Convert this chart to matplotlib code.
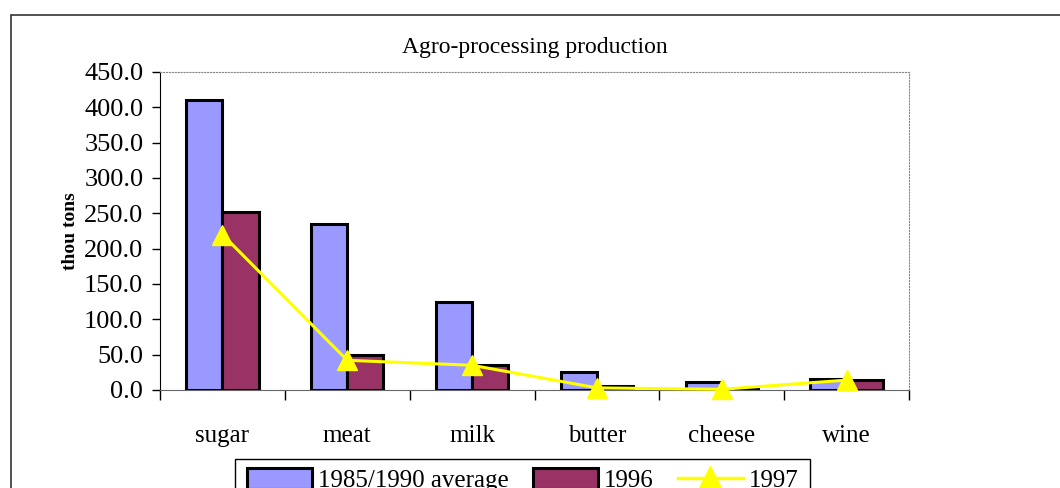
"""Agro-processing production: bars for two periods plus a 1997 line"""

import matplotlib
matplotlib.use("Agg")
import matplotlib.pyplot as plt
from matplotlib.patches import Patch, Rectangle
from matplotlib.lines import Line2D
from matplotlib.ticker import FormatStrFormatter

categories = ["sugar", "meat", "milk", "butter", "cheese", "wine"]
avg_1985_1990 = [410.0, 235.0, 125.0, 26.0, 12.0, 15.0]
year_1996 = [252.0, 49.0, 36.0, 5.0, 2.0, 14.0]
year_1997 = [220.0, 42.0, 35.0, 3.0, 1.0, 14.0]

BLUE = "#9999FF"
MAROON = "#993366"
YELLOW = "#FFFF00"

plt.rcParams["font.family"] = ["Liberation Serif", "DejaVu Serif"]

W, H = 1060, 488
fig = plt.figure(figsize=(W / 100, H / 100), dpi=100)

# outer chart border, runs off the right and bottom edges
fig.patches.append(Rectangle((11 / W, -0.2), 1.2, 1.2 - 15 / H,
                             transform=fig.transFigure, fill=False,
                             edgecolor="#333333", linewidth=1.2))

ax = fig.add_axes([160 / W, 1 - 390 / H, 749 / W, 318 / H])

x = list(range(len(categories)))
w = 0.29
ax.bar([i - w / 2 for i in x], avg_1985_1990, width=w, color=BLUE,
       edgecolor="black", linewidth=2.2, zorder=2)
ax.bar([i + w / 2 for i in x], year_1996, width=w, color=MAROON,
       edgecolor="black", linewidth=2.2, zorder=2)
ax.plot(x, year_1997, color=YELLOW, linewidth=2.2, marker="^",
        markersize=15, zorder=3, clip_on=False)

ax.set_xlim(-0.5, len(categories) - 0.5)
ax.set_ylim(0, 450)
ax.set_yticks(range(0, 451, 50))
ax.yaxis.set_major_formatter(FormatStrFormatter("%.1f"))
ax.tick_params(axis="y", direction="out", length=6, width=1, labelsize=19, pad=6)

ax.set_xticks(x)
ax.set_xticklabels(categories)
ax.set_xticks([i - 0.5 for i in range(len(categories) + 1)], minor=True)
ax.tick_params(axis="x", which="major", length=0, labelsize=18, pad=25)
ax.tick_params(axis="x", which="minor", direction="out", length=7, width=1)

ax.spines["top"].set_linestyle(":")
ax.spines["top"].set_color("#888888")
ax.spines["right"].set_linestyle(":")
ax.spines["right"].set_color("#888888")
ax.spines["bottom"].set_color("#666666")
ax.spines["left"].set_color("black")

ax.set_ylabel("thou tons", fontsize=14, fontweight="bold", labelpad=4)
fig.text(535 / W, 1 - 48 / H, "Agro-processing production",
         ha="center", va="center", fontsize=17)

# legend box drawn separately so it keeps the wide right margin
fig.patches.append(Rectangle((235 / W, -0.2), (810 - 235) / W, 0.2 + 1 - 459 / H,
                             transform=fig.transFigure, fill=False,
                             edgecolor="black", linewidth=1))

handles = [
    Patch(facecolor=BLUE, edgecolor="black", linewidth=2.2),
    Patch(facecolor=MAROON, edgecolor="black", linewidth=2.2),
    Line2D([], [], color=YELLOW, linewidth=2.5, marker="^", markersize=17),
]
fig.legend(handles, ["1985/1990 average", "1996", "1997"], ncol=3,
           loc="upper left", bbox_to_anchor=(247 / W, 1 - 468 / H),
           frameon=False, fontsize=18, borderaxespad=0, borderpad=0,
           handlelength=2.6, handleheight=0.9, handletextpad=0.25,
           columnspacing=0.95)

fig.savefig("out.png", dpi=100)
